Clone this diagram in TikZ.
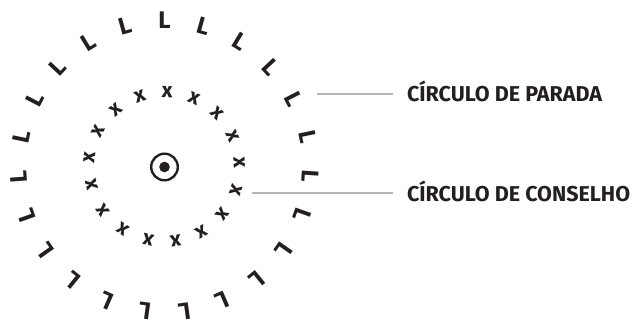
\documentclass[tikz,border=0pt]{standalone}
\usepackage{fontspec}
\setmainfont{Fira Sans}
\definecolor{ink}{HTML}{231F20}
\definecolor{leadgray}{HTML}{B4B4B4}
\begin{document}
\begin{tikzpicture}[x=1pt,y=-1pt,
  ringL/.style={font=\bfseries\fontsize{24}{24}\selectfont, text=ink, inner sep=0pt},
  ringX/.style={font=\bfseries\fontsize{21}{21}\selectfont, text=ink, inner sep=0pt},
  tag/.style={font=\bfseries\fontsize{21.5}{21.5}\selectfont, text=ink, inner ysep=0pt, inner xsep=0pt, outer xsep=14pt, anchor=base west},
  leader/.style={draw=leadgray, line width=2.4pt}]
\useasboundingbox (0,0) rectangle (633,321);
\coordinate (ctr) at (164.5,166.5);
% outer ring of L
\foreach \i in {0,...,22}{
  \pgfmathsetmacro\ang{90-\i*360/23}
  \pgfmathsetmacro\rot{\ang-90}
  \node[ringL, rotate=\rot] (L\i) at ({164.5+146*cos(\ang)},{166.5-146*sin(\ang)}) {L};
}
% inner ring of x
\foreach \i in {0,...,16}{
  \pgfmathsetmacro\ang{88-\i*360/17}
  \pgfmathsetmacro\rot{\ang-90}
  \node[ringX, rotate=\rot] (X\i) at ({164.5+75*cos(\ang)},{167-75*sin(\ang)}) {x};
}
% target
\node[circle, draw=ink, line width=2.4pt, minimum size=26.6pt, inner sep=0pt] (tgt) at (164.5,167) {};
\node[circle, fill=ink, minimum size=10.6pt, inner sep=0pt] (dot) at (tgt.center) {};
% labels
\node[tag] (stop) at (393,101.5) {CÍRCULO DE PARADA};
\node[tag] (advice) at (393,201.5) {CÍRCULO DE CONSELHO};
\coordinate (stopc) at (317,94);
\coordinate (advc) at (252,193);
\draw[leader] (stopc) -- (stopc -| stop.west);
\draw[leader] (advc) -- (advc -| advice.west);
\end{tikzpicture}
\end{document}
